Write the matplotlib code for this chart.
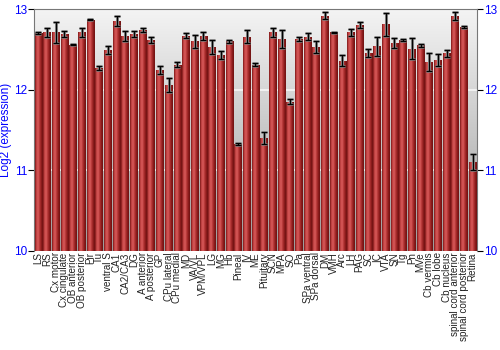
import numpy as np
import matplotlib
matplotlib.use("Agg")
import matplotlib.pyplot as plt
from matplotlib.colors import LinearSegmentedColormap

# regions, log2 expression and error
regions = ["LS", "RS", "Cx motor", "Cx cingulate", "OB anterior", "OB posterior",
           "Pir", "Tu", "ventral S", "CA1", "CA2/CA3", "DG", "A anterior",
           "A posterior", "GP", "CPu lateral", "CPu medial", "MD", "VA/VL",
           "VPM/VPL", "LG", "MG", "Hb", "Pineal", "IV", "ME", "Pituitary", "SCN",
           "MPA", "SO", "Pa", "SPa ventral", "SPa dorsal", "DM", "VMH", "Arc",
           "LH", "PAG", "SC", "IC", "VTA", "SN", "Tg", "Pn", "MVe", "Cb vermis",
           "Cb lobe", "Cb nucleus", "spinal cord anterior", "spinal cord posterior",
           "Retina"]
values = [12.70, 12.71, 12.71, 12.69, 12.56, 12.71, 12.87, 12.27, 12.49, 12.85,
          12.67, 12.69, 12.74, 12.62, 12.24, 12.06, 12.31, 12.67, 12.60, 12.67,
          12.53, 12.43, 12.60, 11.33, 12.66, 12.31, 11.40, 12.71, 12.63, 11.85,
          12.63, 12.66, 12.53, 12.92, 12.71, 12.36, 12.71, 12.80, 12.46, 12.54,
          12.81, 12.58, 12.62, 12.51, 12.55, 12.34, 12.37, 12.45, 12.92, 12.78,
          11.10]
errors = [0.01, 0.06, 0.13, 0.04, 0.01, 0.05, 0.01, 0.02, 0.05, 0.06,
          0.06, 0.04, 0.02, 0.04, 0.05, 0.09, 0.03, 0.03, 0.08, 0.05,
          0.09, 0.05, 0.02, 0.01, 0.08, 0.02, 0.07, 0.06, 0.11, 0.03,
          0.02, 0.04, 0.07, 0.04, 0.01, 0.07, 0.04, 0.04, 0.05, 0.12,
          0.14, 0.06, 0.01, 0.13, 0.02, 0.11, 0.07, 0.04, 0.05, 0.01,
          0.10]

plt.rcParams['font.family'] = ['Liberation Sans', 'DejaVu Sans']

fig = plt.figure(figsize=(5, 3.5), dpi=100)
ax = fig.add_axes([0.068, 0.283, 0.886, 0.691])

x = np.arange(len(regions))
ymin, ymax = 10, 13
ax.set_xlim(-0.5, len(regions) - 0.5)
ax.set_ylim(ymin, ymax)

# gray vertical gradient background
bg = LinearSegmentedColormap.from_list("bg", ["#9c9c9c", "#f4f4f4"])
grad = np.linspace(0, 1, 256).reshape(-1, 1)
ax.imshow(grad, cmap=bg, aspect="auto", origin="lower",
          extent=(-0.5, len(regions) - 0.5, ymin, ymax), zorder=0)
for g in [11, 12]:
    ax.axhline(g, color="white", lw=1.2, alpha=0.8, zorder=1)

# bars with horizontal shading
bars = ax.bar(x, [v - ymin for v in values], bottom=ymin, width=0.88,
              color="#a83030", edgecolor="none", zorder=2)
shade = LinearSegmentedColormap.from_list(
    "shade", ["#7a1616", "#c94848", "#d65a5a", "#b33434", "#8c1c1c", "#6e1212"])
hgrad = np.linspace(0, 1, 64).reshape(1, -1)
for b in bars:
    im = ax.imshow(hgrad, cmap=shade, aspect="auto",
                   extent=(b.get_x(), b.get_x() + b.get_width(), ymin, ymax), zorder=3)
    im.set_clip_path(b)

ax.errorbar(x, values, yerr=errors, fmt="none", ecolor="#999999", elinewidth=2.2,
            capsize=2.5, capthick=1.8, zorder=4)
ax.errorbar(x, values, yerr=errors, fmt="none", ecolor="black", elinewidth=1,
            capsize=2, capthick=1, zorder=5)

ax.set_xticks(x)
ax.set_xticklabels(regions, rotation=90, fontsize=7.1, color="#222222")
ax.tick_params(axis="x", length=0, pad=1)

ax.set_yticks([10, 11, 12, 13])
ax.tick_params(axis="y", labelcolor="blue", labelsize=8.5, length=4, color="black",
               left=True, right=True, labelright=True, pad=1)
ax.set_ylabel("Log2 (expression)", color="blue", fontsize=8.5, labelpad=1)

for s in ["top", "left", "right"]:
    ax.spines[s].set_color("#777777")
ax.spines["bottom"].set_visible(False)

plt.savefig("out.png", dpi=100)
